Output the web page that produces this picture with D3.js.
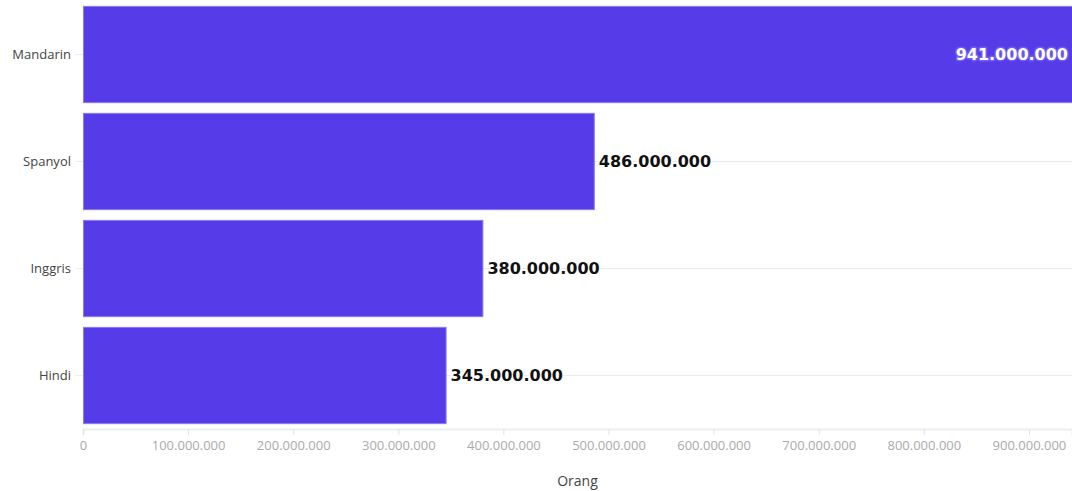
<!DOCTYPE html>
<html><head><meta charset="utf-8">
<script src="https://cdn.jsdelivr.net/npm/d3@7"></script>
<style>
body{margin:0;background:#fff;}
text{font-family:"Open Sans","Noto Sans",sans-serif;}
</style></head>
<body><svg id="c" width="1072" height="491"></svg>
<script>
const categories = ["Mandarin","Spanyol","Inggris","Hindi"];
const values = [941000000, 486000000, 380000000, 345000000];
const xTicks = [0,100000000,200000000,300000000,400000000,500000000,600000000,700000000,800000000,900000000];
const xTitle = "Orang";

const svg = d3.select("#c");
const W = 1072, H = 491;
const m = {left:83, right:0, top:1, bottom:62};
const fmt = v => d3.format(",")(v).replace(/,/g,".");

const x = d3.scaleLinear().domain([0, 941000000]).range([m.left, W - m.right]);
const y = d3.scaleBand().domain(categories).range([m.top, H - m.bottom]).paddingInner(0.1).paddingOuter(0.05);

// gridlines
svg.append("g").selectAll("line").data(categories).join("line")
  .attr("x1", m.left).attr("x2", W)
  .attr("y1", d => y(d) + y.bandwidth()/2).attr("y2", d => y(d) + y.bandwidth()/2)
  .attr("stroke", "#ebebeb").attr("stroke-width", 1);

// x axis
const xa = svg.append("g").attr("transform", `translate(0,${H - m.bottom})`)
  .call(d3.axisBottom(x).tickValues(xTicks).tickFormat(fmt).tickSize(6).tickPadding(6));
xa.select(".domain").attr("stroke", "#eeeeee").attr("stroke-width", 2);
xa.selectAll(".tick line").attr("stroke", "#e2e2e2");
xa.selectAll("text").attr("fill", "#aaaaaa").attr("font-size", 13);

// y axis
const ya = svg.append("g").attr("transform", `translate(${m.left},0)`)
  .call(d3.axisLeft(y).tickSize(8).tickPadding(4));
ya.select(".domain").remove();
ya.selectAll(".tick line").attr("stroke", "#eeeeee");
ya.selectAll("text").attr("fill", "#444").attr("font-size", 13);

// bars
svg.append("g").selectAll("rect").data(categories).join("rect")
  .attr("x", x(0) + 0.5)
  .attr("y", d => y(d))
  .attr("width", (d,i) => x(values[i]) - x(0))
  .attr("height", y.bandwidth())
  .attr("fill", "#553ce8")
  .attr("stroke", "#8a7cf0").attr("stroke-width", 1);

// labels
svg.append("g").selectAll("text").data(categories).join("text")
  .each(function(d,i){
    const inside = x(values[i]) > W - 130;
    const t = d3.select(this)
      .attr("y", y(d) + y.bandwidth()/2)
      .attr("dy", "0.36em")
      .style("font-family", "'DejaVu Sans', sans-serif")
      .attr("font-size", 16).attr("font-weight", "bold")
      .text(fmt(values[i]));
    if (inside) {
      t.attr("x", x(values[i]) - 4).attr("text-anchor","end")
       .attr("fill","#fff").attr("stroke","#6f5cf0").attr("stroke-width",3)
       .attr("paint-order","stroke").attr("stroke-linejoin","round");
    } else {
      t.attr("x", x(values[i]) + 5).attr("text-anchor","start")
       .attr("fill","#111").attr("stroke","#fff").attr("stroke-width",3)
       .attr("paint-order","stroke").attr("stroke-linejoin","round");
    }
  });

// axis title
svg.append("text").attr("x", (m.left + W)/2).attr("y", 486)
  .attr("text-anchor","middle").attr("fill","#444").attr("font-size",14).text(xTitle);
</script></body></html>
